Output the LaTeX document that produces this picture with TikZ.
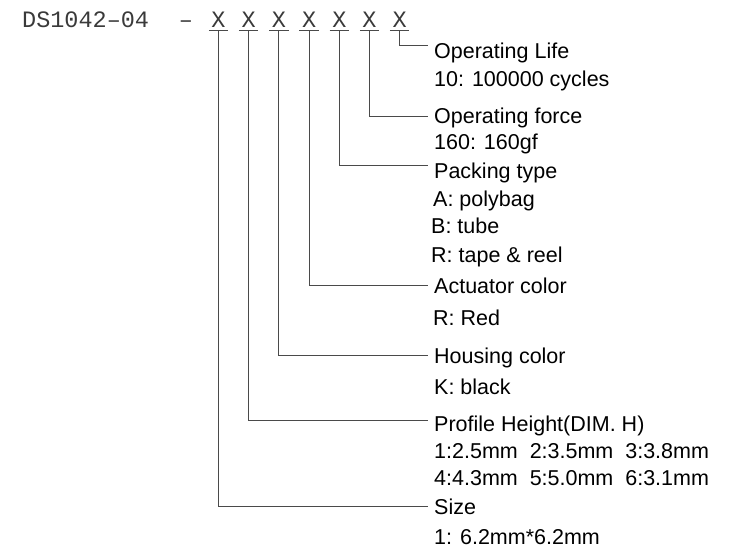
\documentclass[tikz,border=0pt]{standalone}
\usepackage{fontspec}
\setmainfont{Liberation Sans}
\newfontfamily\partfont{Liberation Mono}
\usetikzlibrary{positioning}
\definecolor{LeaderGray}{HTML}{4A4A4A}
\definecolor{CodeGray}{HTML}{3A3A3A}

\begin{document}
\begin{tikzpicture}[x=1pt, y=-1pt,
  code/.style={font=\partfont\fontsize{23.5}{24}\selectfont, text=CodeGray, inner sep=0pt,
    text height=15pt, text depth=0pt},
  digit/.style={code, inner xsep=2.5pt, inner ysep=3pt},
  field/.style={font=\fontsize{21.5}{24}\selectfont, inner sep=0pt,
    text height=15pt, text depth=0pt, anchor=base west},
  leader/.style={LeaderGray, line width=0.9pt}]
  \useasboundingbox (0,0) rectangle (731,556);

  % part number with its seven option places
  \node[code, anchor=west] (part) at (22,20) {DS1042–04};
  \node[code] (dash) at (186,20) {–};
  \foreach \i in {1,...,7}
    \node[digit] (x\i) at ({218.5+30.2*(\i-1)},20) {X};
  \foreach \i in {1,...,7}
    \draw[leader] (x\i.south west) -- (x\i.south east);

  % option titles
  \node[field] (life)  at (434,59)  {Operating Life};
  \node[field] (force) at (434,124) {Operating force};
  \node[field] (pack)  at (434,179) {Packing type};
  \node[field] (act)   at (434,293) {Actuator color};
  \node[field] (house) at (434,363) {Housing color};
  \node[field] (prof)  at (434,431) {Profile Height(DIM. H)};
  \node[field] (size)  at (434,514) {Size};

  % option values
  \node[field, below=28pt of life.base west, anchor=base west] (life1) {10: 100000 cycles};
  \node[field, below=26pt of force.base west, anchor=base west] (force1) {160: 160gf};
  \node[field, below=28pt of pack.base west, anchor=base west, xshift=-1pt] (pack1) {A: polybag};
  \node[field, below=27pt of pack1.base west, anchor=base west, xshift=-2pt] (pack2) {B: tube};
  \node[field, below=28pt of pack2.base west, anchor=base west] (pack3) {R: tape \& reel};
  \node[field, below=32pt of act.base west, anchor=base west, xshift=-1pt] (act1) {R: Red};
  \node[field, below=31pt of house.base west, anchor=base west] (house1) {K: black};
  \node[field, below=27pt of prof.base west, anchor=base west] (prof1) {1:2.5mm\ \ 2:3.5mm\ \ 3:3.8mm};
  \node[field, below=27pt of prof1.base west, anchor=base west] (prof2) {4:4.3mm\ \ 5:5.0mm\ \ 6:3.1mm};
  \node[field, below=30pt of size.base west, anchor=base west] (size1) {1: 6.2mm*6.2mm};

  % leaders from each place to its title
  \draw[leader] (x7.south) |- ([shift={(-6pt,6pt)}]life.west);
  \draw[leader] (x6.south) |- ([xshift=-6pt]force.west);
  \draw[leader] (x5.south) |- ([shift={(-6pt,6pt)}]pack.west);
  \draw[leader] (x4.south) |- ([xshift=-6pt]act.west);
  \draw[leader] (x3.south) |- ([xshift=-6pt]house.west);
  \draw[leader] (x2.south) |- ([shift={(-6pt,3pt)}]prof.west);
  \draw[leader] (x1.south) |- ([xshift=-6pt]size.west);
\end{tikzpicture}
\end{document}
